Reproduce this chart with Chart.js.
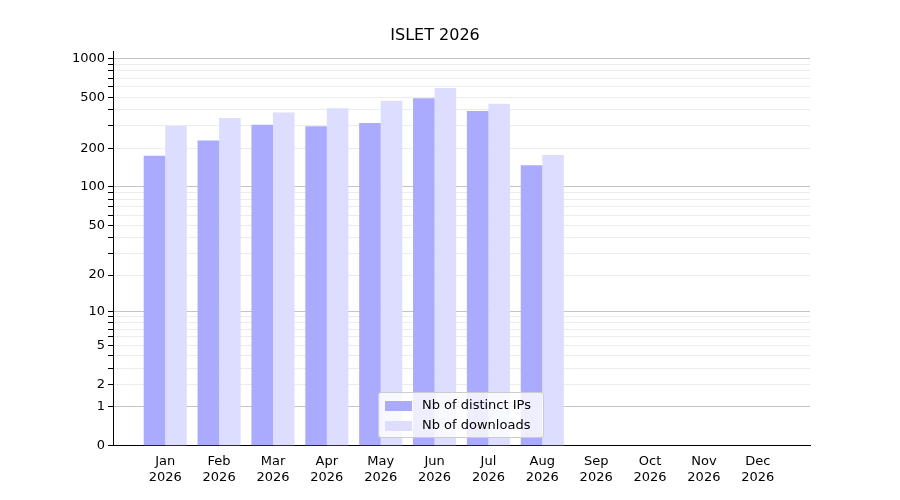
<!DOCTYPE html>
<html><head><meta charset="utf-8">
<script src="https://cdn.jsdelivr.net/npm/chart.js@4"></script>
<style>
body{margin:0;background:#fff;font-family:"DejaVu Sans",sans-serif}
#wrap{position:relative;width:900px;height:500px}
#legend{position:absolute;left:378px;top:392px;width:164px;height:44px;border:1px solid #ccc;border-radius:3px;background:rgba(255,255,255,0.8);font-size:13px;color:#000}
#legend div{position:absolute;left:6px;height:14px;line-height:14px}
#legend span{display:inline-block;width:27px;height:10px;margin-right:10px;vertical-align:middle}
</style></head><body>
<div id="wrap"><canvas id="c" width="900" height="500"></canvas>
<div id="legend">
<div style="top:5px"><span style="background:#aaaaff"></span>Nb of distinct IPs</div>
<div style="top:25px"><span style="background:#ddddff"></span>Nb of downloads</div>
</div></div>
<script>
const months = ["Jan","Feb","Mar","Apr","May","Jun","Jul","Aug","Sep","Oct","Nov","Dec"];
const distinctIPs = [175,230,305,298,315,490,390,148];
const downloads = [300,345,380,410,470,590,445,178];
const labeledTicks = [0,1,2,5,10,20,50,100,200,500,1000];
const majorTicks = [0,1,10,100,1000];

const tf = v => Math.log10(1+v);
const allTicks = [0,1];
[1,10,100].forEach(d => { for(let k=2;k<=10;k++) allTicks.push(k*d); });

new Chart(document.getElementById("c"), {
  type:'bar',
  data:{datasets:[
    {label:'Nb of distinct IPs', data:distinctIPs.map((v,i)=>({x:i,y:tf(v)})), backgroundColor:'#aaaaff'},
    {label:'Nb of downloads', data:downloads.map((v,i)=>({x:i,y:tf(v)})), backgroundColor:'#ddddff'}
  ]},
  options:{
    responsive:false, animation:false,
    layout:{padding:{left:60,right:90,top:10,bottom:12}},
    datasets:{bar:{categoryPercentage:0.8,barPercentage:1.0}},
    plugins:{
      legend:{display:false}, tooltip:{enabled:false},
      title:{display:true,text:'ISLET 2026',color:'#000',font:{size:16,weight:'normal',family:'DejaVu Sans'},padding:{top:16,bottom:6}}
    },
    scales:{
      x:{type:'linear',min:-0.97,max:11.97,offset:false,
        afterBuildTicks:s=>{s.ticks=months.map((m,i)=>({value:i}));},
        ticks:{color:'#000',font:{size:13,family:'DejaVu Sans'},maxRotation:0,autoSkip:false,
          callback:v=>[months[v],'2026']},
        grid:{display:false,drawTicks:true,tickLength:5},
        border:{color:'#000'}},
      y:{min:0,max:3.056,
        afterBuildTicks:s=>{s.ticks=allTicks.map(v=>({value:tf(v)}));},
        afterFit:s=>{s.width=53;},
        ticks:{color:'#000',font:{size:13,family:'DejaVu Sans'},autoSkip:false,
          callback:(v,i)=>labeledTicks.includes(allTicks[i])?String(allTicks[i]):''},
        grid:{color:c=>majorTicks.includes(allTicks[c.index])?'#c4c4c4':'#ececec',tickLength:5,tickColor:'#000'},
        border:{color:'#000'}}
    }
  }
});
</script></body></html>
